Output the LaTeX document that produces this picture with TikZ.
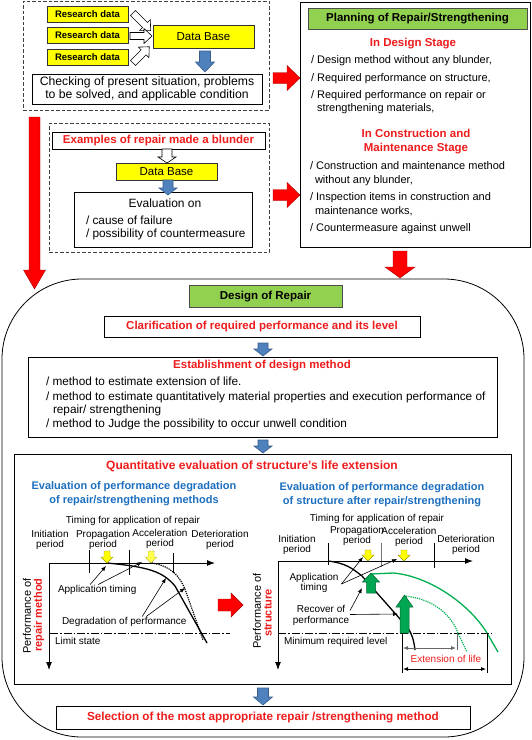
\documentclass[tikz,border=0pt]{standalone}
\usepackage{fontspec}
\setmainfont{Liberation Sans}
\usetikzlibrary{arrows.meta}
\definecolor{ylw}{HTML}{FFFF00}
\definecolor{grn}{HTML}{92D050}
\definecolor{rtxt}{HTML}{EE1C1C}
\definecolor{btxt}{HTML}{1C6FC0}
\definecolor{bfill}{HTML}{4F81BD}
\definecolor{bline}{HTML}{385D8A}
\definecolor{gfill}{HTML}{00A651}
\definecolor{gline}{HTML}{00B050}
\definecolor{rfill}{HTML}{FF0000}
\newcommand\blockarr[8]{\draw[#1,shift={(#2,#3)},rotate=#4] (0,-#6) -- ({#5-#8},-#6) -- ({#5-#8},-#7) -- (#5,0) -- ({#5-#8},#7) -- ({#5-#8},#6) -- (0,#6) -- cycle;}
\begin{document}
\begin{tikzpicture}[x=1pt,y=-1pt,
  every node/.style={inner sep=0pt, outer sep=0pt},
  box/.style={draw=black, line width=0.7pt, fill=white},
  ybox/.style={draw=black!80, line width=0.7pt, fill=ylw},
  gbox/.style={draw=black!70, line width=0.8pt, fill=grn},
  dbox/.style={draw=black!75, line width=0.7pt, dash pattern=on 3.5pt off 2pt},
  tl/.style={font=\fontsize{11}{13}\selectfont, text height=8pt, text depth=2pt},
  tlw/.style={font=\fontsize{11.8}{13}\selectfont, text height=8pt, text depth=2pt},
  tb/.style={font=\bfseries\fontsize{11.5}{13}\selectfont, text height=8.5pt, text depth=2pt},
  gl/.style={font=\fontsize{10}{10.5}\selectfont, align=center},
  glw/.style={font=\fontsize{10}{11}\selectfont, anchor=west, text height=7pt, text depth=2pt},
  harr/.style={fill=white, draw=black, line width=0.6pt},
  barr/.style={fill=bfill, draw=bline, line width=0.6pt},
  rarr/.style={fill=rfill, draw=red!65!black, line width=0.4pt},
  yarr/.style={fill=ylw, draw=ylw!60!black, line width=0.4pt},
  yarrd/.style={fill=ylw!70, draw=ylw!50!black, line width=0.5pt, densely dotted},
  garr/.style={fill=gfill, draw=gfill!60!black, line width=0.5pt},
  axis/.style={line width=1pt, -{Latex[length=8pt,width=6pt]}},
  tick/.style={line width=0.7pt},
  curve/.style={line width=1.3pt},
  dcurve/.style={line width=1.2pt, densely dotted},
  dashdot/.style={line width=0.7pt, dash pattern=on 8pt off 2pt on 1.5pt off 2pt},
  ptr/.style={line width=0.6pt, -{Latex[length=5pt,width=4pt]}},
  dim/.style={line width=0.8pt, {Latex[length=5pt,width=4pt]}-{Latex[length=5pt,width=4pt]}},
  ylab/.style={rotate=90, font=\fontsize{11}{13}\selectfont},
  ylabr/.style={rotate=90, font=\bfseries\fontsize{11}{13}\selectfont, text=rtxt}
]
\useasboundingbox (0,0) rectangle (532,740);

% ---------- top-left block
\node[dbox, minimum width=246pt, minimum height=109pt] (dash1) at (146,55.5) {};
\node[ybox, minimum width=81pt, minimum height=16pt, font=\bfseries\fontsize{9.5}{11}\selectfont] (rd1) at (87.5,14) {Research data};
\node[ybox, minimum width=81pt, minimum height=16pt, font=\bfseries\fontsize{9.5}{11}\selectfont] (rd2) at (87.5,35) {Research data};
\node[ybox, minimum width=81pt, minimum height=16pt, font=\bfseries\fontsize{9.5}{11}\selectfont] (rd3) at (87.5,57.5) {Research data};
\node[ybox, minimum width=101pt, minimum height=23pt, font=\fontsize{11.5}{13}\selectfont] (db1) at (203.5,36.5) {Data Base};
\node[box, minimum width=230pt, minimum height=30pt, align=center, font=\fontsize{12.2}{13}\selectfont] (chk) at (147,89) {Checking of present situation, problems\\to be solved, and applicable condition};
\blockarr{harr}{133}{13}{-45}{25}{3.5}{7.5}{8}
\blockarr{harr}{130}{36}{0}{22}{3.5}{7.5}{8}
\blockarr{harr}{133}{63}{45}{23}{3.5}{7.5}{8}
\blockarr{barr}{205}{51}{-90}{21}{5.5}{9.5}{10}

% ---------- second dashed block
\node[dbox, minimum width=220pt, minimum height=129pt] (dash2) at (159,187.5) {};
\node[box, minimum width=213pt, minimum height=17pt, tb, text=rtxt] (exm) at (158.5,140.5) {Examples of repair made a blunder};
\node[ybox, minimum width=101pt, minimum height=17pt, font=\fontsize{11.5}{13}\selectfont] (db2) at (166.5,171.5) {Data Base};
\node[box, minimum width=178pt, minimum height=55pt] (ev) at (163,219.5) {};
\node[tl, font=\fontsize{12}{13}\selectfont] (evt) at (165,204) {Evaluation on};
\node[tlw, anchor=west] (ev1) at (86,221) {/ cause of failure};
\node[tlw, anchor=west] (ev2) at (86,234) {/ possibility of countermeasure};
\blockarr{harr}{167}{149}{-90}{14}{5}{9}{6}
\blockarr{barr}{168}{180}{-90}{15}{5}{9}{7}

% ---------- planning box
\node[box, minimum width=230pt, minimum height=245pt] (pl) at (415,124.5) {};
\node[gbox, minimum width=219pt, minimum height=21pt, tb] (plt) at (417.5,18.5) {Planning of Repair/Strengthening};
\node[tb, text=rtxt] (ds) at (413,43) {In Design Stage};
\node[tl, anchor=west] (p1) at (311,60) {/ Design method without any blunder,};
\node[tl, anchor=west] (p2) at (311,78) {/ Required performance on structure,};
\node[tl, anchor=west] (p3) at (311,95) {/ Required performance on repair or};
\node[tl, anchor=west] (p3b) at (317,108) {strengthening materials,};
\node[tb, text=rtxt] (cs1) at (416,134) {In Construction and};
\node[tb, text=rtxt] (cs2) at (416,148) {Maintenance Stage};
\node[tl, anchor=west] (q1) at (310,166) {/ Construction and maintenance method};
\node[tl, anchor=west] (q1b) at (315,180) {without any blunder,};
\node[tl, anchor=west] (q2) at (310,197) {/ Inspection items in construction and};
\node[tl, anchor=west] (q2b) at (315,211) {maintenance works,};
\node[tl, anchor=west] (q3) at (310,228) {/ Countermeasure against unwell};

% ---------- big rounded frame
\node[draw, line width=0.8pt, rounded corners=80pt, minimum width=522pt, minimum height=458pt] (big) at (263,508) {};

% red block arrows
\blockarr{rarr}{273}{78}{0}{27}{5.5}{12.5}{13}
\blockarr{rarr}{273}{195}{0}{27}{5.5}{12.5}{13}
\blockarr{rarr}{34.5}{117}{-90}{172}{5.5}{11}{19}
\blockarr{rarr}{400}{251}{-90}{27}{7}{15}{11}

% ---------- design of repair
\node[gbox, minimum width=153pt, minimum height=22pt, tb] (dr) at (265.5,296) {Design of Repair};
\node[box, minimum width=316pt, minimum height=21pt, tb, text=rtxt] (cl) at (262,326.5) {Clarification of required performance and its level};
\blockarr{barr}{263}{343}{-90}{13}{5}{9}{7}
\node[box, minimum width=469pt, minimum height=80pt] (es) at (262.5,397) {};
\node[tb, text=rtxt] (est) at (262,365) {Establishment of design method};
\node[tlw, anchor=west] (e1) at (46,382) {/ method to estimate extension of life.};
\node[tlw, anchor=west] (e2) at (46,397) {/ method to estimate quantitatively material properties and execution performance of};
\node[tlw, anchor=west] (e2b) at (53,410) {repair/ strengthening};
\node[tlw, anchor=west] (e3) at (46,424) {/ method to Judge the possibility to occur unwell condition};
\blockarr{barr}{263}{440}{-90}{13}{5}{9}{7}

% ---------- quantitative evaluation
\node[box, minimum width=497pt, minimum height=230pt] (qb) at (262.5,569) {};
\node[font=\bfseries\fontsize{12}{14}\selectfont, text=rtxt] (qt) at (252,466) {Quantitative evaluation of structure’s life extension};
\node[font=\bfseries\fontsize{11}{14}\selectfont, text=btxt, align=center] (st1) at (134,494) {Evaluation of performance degradation\\of repair/strengthening methods};
\node[font=\bfseries\fontsize{11}{14}\selectfont, text=btxt, align=center] (st2) at (382,495) {Evaluation of performance degradation\\of structure after repair/strengthening};

% left graph
\node[gl] (tm1) at (133,521) {Timing for application of repair};
\node[gl] (pa1) at (50,540) {Initiation\\period};
\node[gl] (pb1) at (103,540) {Propagation\\period};
\node[gl] (pc1) at (160,539) {Acceleration\\period};
\node[gl] (pd1) at (220,540) {Deterioration\\period};
\coordinate (o1) at (49,563);
\coordinate (x1) at (215,563);
\coordinate (y1) at (49,670);
\draw[tick] (89,550) -- (89,573);
\draw[tick] (129,550) -- (129,575);
\draw[tick] (173,553) -- (173,573);
\draw[axis] (o1) -- (x1);
\draw[axis] (o1) -- (y1);
\draw[dashdot] (50,633) -- (230,633);
\draw[dcurve] (152,563) .. controls (170,566) and (180,575) .. (186,592) -- (203,640);
\draw[curve] (107,563) .. controls (150,567) and (163,572) .. (175,586) -- (207,643);
\blockarr{yarr}{107}{551}{-90}{12}{3}{6}{6}
\blockarr{yarrd}{151}{551}{-90}{12}{3}{6}{6}
\node[glw] (lim) at (55,642) {Limit state};
\node[glw] (at1) at (58,590) {Application timing};
\node[glw] (dg1) at (62,622) {Degradation of performance};
\coordinate (t1a) at (106,566);
\coordinate (t1b) at (142,562);
\coordinate (d1a) at (166,578);
\coordinate (d1b) at (185,588);
\draw[ptr] ([xshift=-7pt,yshift=1pt]at1.north) -- (t1a);
\draw[ptr] ([xshift=1pt,yshift=1pt]at1.north) -- (t1b);
\draw[ptr] ([xshift=18pt,yshift=1pt]dg1.north) -- (d1a);
\draw[ptr] ([xshift=22pt,yshift=1pt]dg1.north) -- (d1b);
\node[ylab] (yl1) at (27,616) {Performance of};
\node[ylabr] (yl1r) at (39,615) {repair method};

\blockarr{rarr}{218}{605}{0}{25}{6}{12}{12}

% right graph
\node[gl] (tm2) at (377,519) {Timing for application of repair};
\node[gl] (pa2) at (297,545) {Initiation\\period};
\node[gl] (pb2) at (357,536) {Propagation\\period};
\node[gl] (pc2) at (409,537) {Acceleration\\period};
\node[gl] (pd2) at (466,545) {Deterioration\\period};
\coordinate (o2) at (278,561);
\coordinate (x2) at (473,561);
\coordinate (y2) at (278,670);
\draw[tick] (328,543) -- (328,565);
\draw[tick, black!55] (381,543) -- (381,567);
\draw[tick] (434,543) -- (434,568);
\draw[axis] (o2) -- (x2);
\draw[axis] (o2) -- (y2);
\draw[dashdot] (278,633) -- (492,633);
\draw[curve, gline] (371,574) -- (393,573) .. controls (430,576) and (470,605) .. (487,633) -- (498,652);
\draw[dcurve, gline] (404,596) .. controls (430,598) and (450,612) .. (458,633) -- (467,652);
\draw[curve] (328,561) .. controls (345,563) and (352,568) .. (362,576) -- (408,628) .. controls (412,634) and (414,641) .. (415,650);
\blockarr{garr}{371}{593}{90}{20}{4.5}{8.5}{9}
\blockarr{garr}{404.5}{633}{90}{38}{4.5}{8.5}{12}
\blockarr{yarr}{368}{550}{-90}{11}{3}{6}{6}
\blockarr{yarr}{404}{550}{-90}{11}{3}{6}{6}
\node[glw] (mrl) at (284,642) {Minimum required level};
\node[gl] (at2) at (314,583) {Application\\timing};
\node[gl] (rc2) at (321,615.5) {Recover of\\performance};
\coordinate (t2a) at (363,557);
\coordinate (t2b) at (397,559);
\coordinate (r2a) at (362,588);
\coordinate (r2b) at (398,614);
\draw[ptr] ([xshift=3pt,yshift=-1pt]at2.east) -- (t2a);
\draw[ptr] ([xshift=3pt,yshift=-1pt]at2.east) -- (t2b);
\draw[ptr] ([xshift=1pt,yshift=5pt]rc2.east) -- (r2a);
\draw[ptr] ([xshift=1pt,yshift=1pt]rc2.east) -- (r2b);
\draw[line width=0.8pt] (402,633) -- (402,673);
\draw[line width=0.8pt, black!60] (457,633) -- (457,650);
\draw[line width=0.8pt] (487,633) -- (487,673);
\draw[dim, black!60] (403,648) -- (456,648);
\draw[dim] (403,669) -- (486,669);
\node[font=\fontsize{10}{11}\selectfont, text=rtxt] (ext) at (446,659) {Extension of life};
\node[ylab] (yl2) at (257,611) {Performance of};
\node[ylabr] (yl2r) at (268,613) {structure};

\blockarr{barr}{263}{688}{-90}{17}{5.5}{9.5}{8}
\node[box, minimum width=414pt, minimum height=23pt, font=\bfseries\fontsize{11.7}{13}\selectfont, text height=8.5pt, text depth=2pt, text=rtxt] (sel) at (263,717.5) {Selection of the most appropriate repair /strengthening method};
\end{tikzpicture}
\end{document}
